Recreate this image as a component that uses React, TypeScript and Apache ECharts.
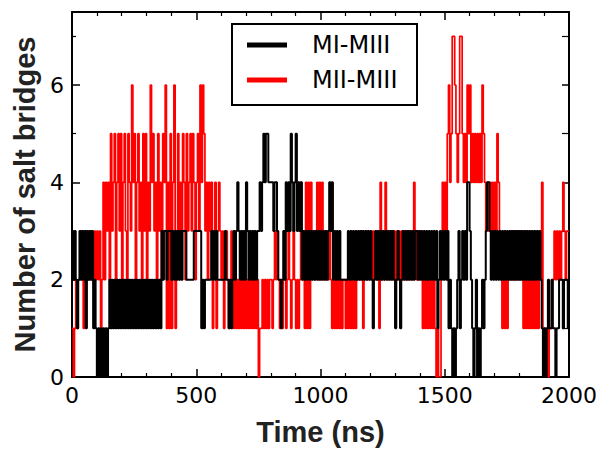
import React, { useEffect, useRef } from "react";
import * as echarts from "echarts";

// Sampling step of the trajectory (ns)
const STEP_NS = 5;

// MI-MIII (black), values every 5 ns, in 500 ns blocks
const blackA = [
  3,2,3,2,1,2,3,2,3,2, 3,1,3,2,3,2,3,1,2,1,
  0,1,0,1,0,1,0,1,0,1, 2,1,2,1,2,1,2,1,2,1,
  2,1,2,1,2,1,2,1,2,1, 2,1,2,1,2,1,2,1,2,1,
  2,1,2,1,2,1,2,1,2,1, 2,1,3,2,3,3,2,3,3,3,
  2,3,2,3,2,3,2,3,2,3, 3,3,2,2,2,2,2,2,3,3,
];
const blackB = [
  3,3,3,3,1,2,1,2,2,2, 2,2,3,2,3,2,3,2,2,2,
  2,2,2,3,2,2,1,2,1,2, 3,2,3,4,3,2,3,2,3,2,
  4,3,2,3,2,3,2,3,2,3, 3,4,3,4,5,4,5,5,4,4,
  4,4,3,4,4,3,2,2,1,2, 3,2,4,3,4,3,5,4,3,4,
  5,3,4,3,4,2,3,2,3,2, 3,2,3,2,3,2,3,2,3,2,
];
const blackC = [
  3,2,3,2,3,2,3,4,3,4, 2,3,2,3,2,3,2,2,2,2,
  2,2,3,2,3,2,3,2,3,2, 3,2,3,2,3,2,3,2,3,2,
  3,2,1,2,3,2,3,2,3,2, 3,2,3,2,3,2,3,2,3,2,
  1,2,3,2,1,2,3,2,3,2, 3,2,3,2,3,2,3,3,2,3,
  2,3,2,3,2,3,2,3,2,3, 2,3,2,3,1,2,3,2,3,2,
];
const blackD = [
  3,2,3,1,2,1,0,1,0,1, 2,3,1,2,3,2,3,2,4,4,
  3,2,1,0,1,2,0,1,0,1, 2,1,2,3,4,4,3,2,3,2,
  3,2,3,2,3,2,3,2,3,2, 3,2,3,2,3,2,3,2,3,2,
  3,2,3,2,3,2,3,2,3,2, 3,2,3,2,3,2,3,2,1,0,
  1,0,1,2,1,1,2,1,1,0, 1,1,2,2,2,1,2,2,2,1,1,
];

// MII-MIII (red)
const redA = [
  1,0,1,2,1,2,2,3,2,1, 2,2,3,2,2,3,2,2,3,2,
  3,2,3,1,2,4,2,4,3,4, 2,5,3,4,5,2,4,5,3,5,
  2,4,5,3,2,5,4,3,6,4, 5,2,4,5,3,4,2,5,3,5,
  2,4,3,6,4,5,3,4,2,5, 3,4,2,5,4,6,1,4,1,5,
  1,4,6,1,3,5,2,4,3,5, 4,2,5,3,4,5,3,5,4,2,
];
const redB = [
  4,5,3,6,4,6,5,3,4,2, 4,3,4,1,3,4,1,3,4,3,
  2,3,1,2,3,2,1,2,3,2, 1,2,1,2,1,2,1,2,1,2,
  1,2,1,2,1,2,1,2,1,2, 0,1,1,2,1,2,1,2,1,2,
  2,1,2,3,2,3,2,1,2,1, 2,3,1,2,3,2,1,2,3,2,
  1,2,1,2,4,2,3,1,4,1, 4,1,4,2,3,2,3,4,2,4,
];
const redC = [
  2,4,2,3,2,3,2,3,2,1, 2,1,2,1,2,1,2,1,2,2,
  1,2,1,2,1,2,1,2,1,2, 2,3,2,3,1,2,3,2,3,2,
  3,2,3,2,3,2,3,1,4,2, 3,2,4,3,2,3,2,3,2,3,
  2,3,2,3,2,3,2,3,2,3, 2,3,2,3,2,4,3,2,3,2,
  3,2,1,2,1,2,1,2,1,2, 1,2,1,0,1,0,0,2,4,3,
];
const redD = [
  4,3,5,6,4,5,7,7,6,5, 4,5,7,7,5,4,5,4,6,5,
  6,4,5,4,5,4,5,4,5,4, 6,5,4,3,4,3,4,3,4,3,
  4,3,5,4,3,2,1,2,1,2, 1,2,2,3,2,3,2,3,2,3,
  2,3,2,1,2,1,2,1,2,1, 2,1,2,1,2,1,2,2,4,0,
  1,0,1,0,1,1,2,2,3,2, 3,2,3,2,3,4,3,2,3,3,3,
];

const xTicks = [0, 500, 1000, 1500, 2000];
const yTicks = [0, 2, 4, 6];

const seriesNames = ["MI-MIII", "MII-MIII"];

function toPairs(vals: number[]): [number, number][] {
  return vals.map((v, i) => [i * STEP_NS, v]);
}

export default function App() {
  const ref = useRef<HTMLDivElement>(null);
  useEffect(() => {
    if (!ref.current) return;
    const chart = echarts.init(ref.current, undefined, { renderer: "svg" });
    const black = toPairs([...blackA, ...blackB, ...blackC, ...blackD]);
    const red = toPairs([...redA, ...redB, ...redC, ...redD]);
    const tickFont = { fontFamily: "DejaVu Sans", fontSize: 22, color: "#000" };
    const axisLine = { show: true, onZero: false, lineStyle: { color: "#000", width: 2 } };
    const common = {
      min: 0,
      splitLine: { show: false },
      axisLine,
    };
    chart.setOption({
      animation: false,
      backgroundColor: "#fff",
      grid: { left: 72, right: 31, top: 12, bottom: 69 },
      xAxis: [
        {
          ...common,
          type: "value",
          max: xTicks[xTicks.length - 1],
          interval: 500,
          position: "bottom",
          axisTick: { show: true, inside: true, length: 8, lineStyle: { color: "#000", width: 1.5 } },
          minorTick: { show: true, splitNumber: 5, length: 4, lineStyle: { color: "#000", width: 1.2 } },
          minorSplitLine: { show: false },
          axisLabel: { ...tickFont, margin: 7, formatter: (v: number) => String(v) },
          name: "Time (ns)",
          nameLocation: "middle",
          nameGap: 40,
          nameTextStyle: { fontFamily: "Liberation Sans", fontWeight: "bold", fontSize: 29, color: "#222" },
        },
        {
          ...common,
          type: "value",
          max: 2000,
          interval: 500,
          position: "top",
          axisTick: { show: true, inside: true, length: 8, lineStyle: { color: "#000", width: 1.5 } },
          minorTick: { show: true, splitNumber: 5, length: 4, lineStyle: { color: "#000", width: 1.2 } },
          axisLabel: { show: false },
        },
      ],
      yAxis: [
        {
          ...common,
          type: "value",
          max: 7.5,
          interval: 2,
          position: "left",
          axisTick: { show: true, inside: true, length: 8, lineStyle: { color: "#000", width: 1.5 } },
          minorTick: { show: true, splitNumber: 2, length: 4, lineStyle: { color: "#000", width: 1.2 } },
          axisLabel: {
            ...tickFont,
            margin: 8,
            showMaxLabel: false,
            formatter: (v: number) => (yTicks.includes(v) ? String(v) : ""),
          },
          name: "Number of salt bridges",
          nameLocation: "middle",
          nameGap: 30,
          nameTextStyle: { fontFamily: "Liberation Sans", fontWeight: "bold", fontSize: 29, color: "#222" },
        },
        {
          ...common,
          type: "value",
          max: 7.5,
          interval: 2,
          position: "right",
          axisTick: { show: true, inside: true, length: 7, lineStyle: { color: "#000", width: 1.5 } },
          minorTick: { show: true, splitNumber: 2, length: 7, lineStyle: { color: "#000", width: 1.2 } },
          axisLabel: { show: false },
        },
      ],
      series: [
        {
          name: seriesNames[1],
          type: "line",
          step: "end",
          data: red,
          showSymbol: false,
          symbol: "none",
          lineStyle: { color: "#ff0000", width: 1.7 },
          xAxisIndex: 0,
          yAxisIndex: 0,
          z: 2,
        },
        {
          name: seriesNames[0],
          type: "line",
          step: "end",
          data: black,
          showSymbol: false,
          symbol: "none",
          lineStyle: { color: "#000000", width: 2 },
          xAxisIndex: 0,
          yAxisIndex: 0,
          z: 3,
        },
      ],
      graphic: [
        {
          type: "group",
          z: 100,
          children: [
            {
              type: "rect",
              shape: { x: 232, y: 24, width: 185, height: 81 },
              style: { fill: "#fff", stroke: "#000", lineWidth: 2 },
            },
            {
              type: "line",
              shape: { x1: 247, y1: 45, x2: 287, y2: 45 },
              style: { stroke: "#000", lineWidth: 5 },
            },
            {
              type: "line",
              shape: { x1: 247, y1: 80, x2: 287, y2: 80 },
              style: { stroke: "#ff0000", lineWidth: 5 },
            },
            {
              type: "text",
              x: 312,
              y: 45,
              style: { text: seriesNames[0], fontFamily: "DejaVu Sans", fontSize: 24, fill: "#000", verticalAlign: "middle" },
            },
            {
              type: "text",
              x: 312,
              y: 80,
              style: { text: seriesNames[1], fontFamily: "DejaVu Sans", fontSize: 24, fill: "#000", verticalAlign: "middle" },
            },
          ],
        },
      ],
    });
    return () => chart.dispose();
  }, []);
  return (
    <div
      ref={ref}
      style={{ position: "fixed", left: 0, top: 0, width: 600, height: 451 }}
    />
  );
}
